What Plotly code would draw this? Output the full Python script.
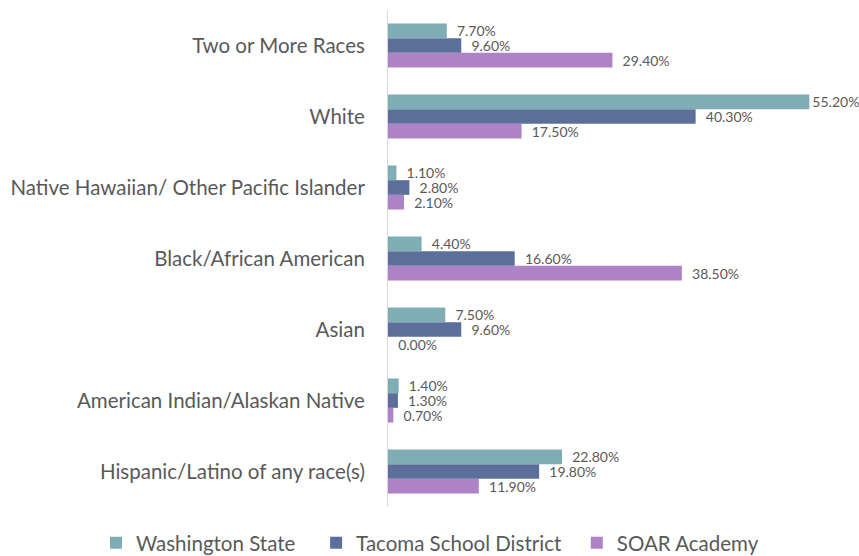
import plotly.graph_objects as go

categories = ["Hispanic/Latino of any race(s)", "American Indian/Alaskan Native", "Asian",
              "Black/African American", "Native Hawaiian/ Other Pacific Islander", "White",
              "Two or More Races"]
washington = [22.8, 1.4, 7.5, 4.4, 1.1, 55.2, 7.7]
tacoma = [19.8, 1.3, 9.6, 16.6, 2.8, 40.3, 9.6]
soar = [11.9, 0.7, 0.0, 38.5, 2.1, 17.5, 29.4]
series_names = ["Washington State", "Tacoma School District", "SOAR Academy"]

NB = "\u00a0"
series = [(series_names[2], soar, "#AE82C6", 0),
          (series_names[1], tacoma, "#5B6F9A", 2),
          (series_names[0], washington, "#7FADB5", 3)]

FONT = "Lato"


def label(v):
    s = "%.2f%%" % v
    return s if v > 50 else "  " + s


fig = go.Figure()
for name, vals, color, pad in series:
    fig.add_trace(go.Bar(
        y=categories, x=vals, name=name + NB * pad, orientation="h",
        marker=dict(color=color, line=dict(width=0)),
        text=[label(v) for v in vals], textposition="outside",
        constraintext="none", cliponaxis=False,
        textfont=dict(family=FONT, size=14, color="#595959"),
    ))

fig.update_layout(
    width=859, height=556,
    barmode="group", bargap=0.38, bargroupgap=0,
    margin=dict(l=388, r=13, t=10, b=49, autoexpand=False),
    paper_bgcolor="white", plot_bgcolor="white",
    font=dict(family=FONT, color="#595959"),
    xaxis=dict(range=[0, 60], visible=False, showgrid=False, zeroline=False),
    yaxis=dict(showline=True, linecolor="#D9D9D9", linewidth=1, showgrid=False,
               ticks="", ticklabelstandoff=18, automargin=False,
               tickfont=dict(family=FONT, size=20.5, color="#595959")),
    showlegend=True,
    legend=dict(orientation="h", traceorder="reversed", xref="paper", yref="paper",
                x=-0.6376, xanchor="left", y=-0.032, yanchor="top",
                font=dict(family=FONT, size=20.5, color="#595959")),
)
fig.write_html("out.html", config={"displayModeBar": False},
               post_script="document.body.style.margin='0';")
